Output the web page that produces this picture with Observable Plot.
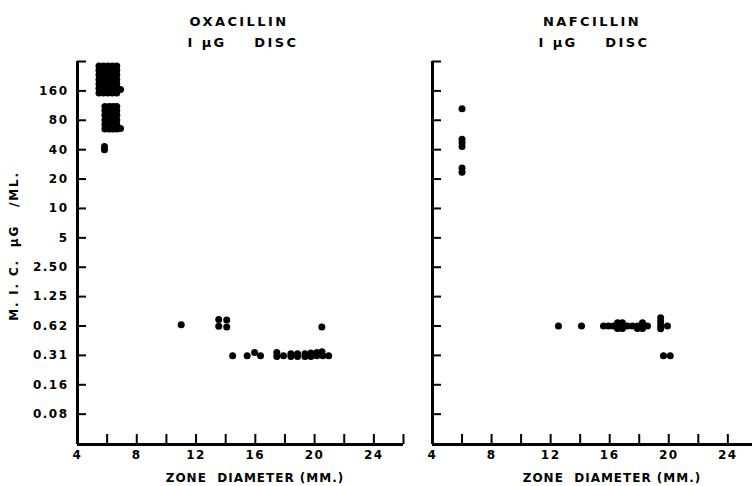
<!DOCTYPE html>
<html><head><meta charset="utf-8">
<script src="https://cdn.jsdelivr.net/npm/d3@7"></script>
<script src="https://cdn.jsdelivr.net/npm/@observablehq/plot@0.6"></script>
<style>
body{margin:0;background:#fff;}
#wrap{position:relative;width:752px;height:486px;overflow:hidden;font-family:"DejaVu Sans";font-weight:bold;color:#000;background:#fff;}
.lbl{position:absolute;white-space:pre;text-align:center;font-weight:bold;}
.title{font-size:13px;line-height:13px;letter-spacing:2.4px;}
.xlab{font-size:12px;line-height:12px;letter-spacing:1px;}
.ylab{font-size:12px;line-height:14px;letter-spacing:1.8px;width:200px;height:14px;transform:rotate(-90deg);}
.plotbox{position:absolute;top:0;}
.plotbox svg text{letter-spacing:1.5px;}
</style></head><body><div id="wrap"></div>
<script>
// ---- data ----
const yTicks = [320,160,80,40,20,10,5,2.5,1.25,0.625,0.3125,0.15625,0.078125];
const yTickLabels = ["","160","80","40","20","10","5","2.50","1.25","0.62","0.31","0.16","0.08"];
const xLabelTicks = [4,8,12,16,20,24];
const xTicksLeft = [6,8,10,12,14,16,18,20,22,24,26];
const xTicksRight = [6,8,10,12,14,16,18,20,22,24];
const yDomain = [0.0382, 320];

// Oxacillin: zone diameter (mm) and MIC (µg/ml)
const oxaMM = [
  5.45,5.45,5.45,5.45,5.45,5.45,5.45,
  5.75,5.75,5.75,5.75,5.75,5.75,5.75,
  6.05,6.05,6.05,6.05,6.05,6.05,6.05,
  6.35,6.35,6.35,6.35,6.35,6.35,6.35,
  6.65,6.65,6.65,6.65,6.65,6.65,6.65,
  6.9,
  5.85,5.85,5.85,5.85,5.85,5.85,
  6.15,6.15,6.15,6.15,6.15,6.15,
  6.4,6.4,6.4,6.4,6.4,6.4,
  6.65,6.65,6.65,6.65,6.65,6.65,
  6.9,
  5.82,5.82,
  11.0,
  13.53,13.53,14.07,14.07,
  20.49,
  14.47,15.45,15.95,16.35,
  17.45,17.45,17.9,18.4,18.4,18.85,18.85,19.35,19.35,19.75,19.75,20.15,20.15,20.5,20.55,20.95
];
const oxaMIC = [
  288,259,233,209,188,169,152,
  288,259,233,209,188,169,152,
  288,259,233,209,188,169,152,
  288,259,233,209,188,169,152,
  288,259,233,209,188,169,152,
  165,
  111,100,90,80.5,72.5,65,
  111,100,90,80.5,72.5,65,
  111,100,90,80.5,72.5,65,
  111,100,90,80.5,72.5,65,
  66,
  43,40,
  0.645,
  0.73,0.62,0.72,0.61,
  0.61,
  0.31,0.31,0.335,0.31,
  0.335,0.305,0.31,0.325,0.305,0.325,0.305,0.325,0.305,0.33,0.305,0.335,0.31,0.34,0.31,0.31
];

// Nafcillin
const nafMM = [
  6.0, 6.0,6.0,6.0, 6.0,6.0,
  12.53, 14.09,
  15.58,15.92,16.25,16.53,16.53,16.86,16.86,17.2,17.54,17.88,17.88,18.22,18.22,18.56,
  19.45,19.45,19.45,19.45,
  19.91,
  19.64,20.1
];
const nafMIC = [
  105, 51,47,43, 26,23.5,
  0.625,0.625,
  0.625,0.625,0.625,0.675,0.59,0.675,0.59,0.625,0.625,0.625,0.59,0.675,0.59,0.625,
  0.76,0.69,0.63,0.585,
  0.625,
  0.31,0.31
];

// ---- drawing ----
const labelMap = new Map(yTicks.map((v, i) => [v, yTickLabels[i]]));
const TOP = 61, BOTTOM = 444, H = 486;

function panel({mm, mic, xDomain, xTicks, width, marginLeft, marginRight, showY}) {
  const data = mm.map((x, i) => ({x, y: mic[i]}));
  const fw = width - marginLeft - marginRight;
  const fh = BOTTOM - TOP;
  return Plot.plot({
    width, height: H,
    marginTop: TOP, marginBottom: H - BOTTOM, marginLeft, marginRight,
    style: {background: "transparent", fontFamily: "DejaVu Sans", fontSize: "12px", fontWeight: "bold", color: "#000", overflow: "visible"},
    x: {type: "linear", domain: xDomain},
    y: {type: "log", base: 2, domain: yDomain, axis: showY ? undefined : null},
    marks: [
      Plot.axisX(xLabelTicks, {tickSize: 0, tickPadding: 6, label: null, tickFormat: d => String(d)}),
      showY ? Plot.axisY(yTicks.slice(1), {tickSize: 0, tickPadding: 9, label: null, tickFormat: d => labelMap.get(d)}) : null,
      Plot.ruleX(xTicks, {x: d => d, stroke: "#000", strokeWidth: 2, insetTop: fh - 10}),
      Plot.ruleY(yTicks, {y: d => d, stroke: "#000", strokeWidth: 2, insetRight: fw - 9}),
      Plot.ruleX([xDomain[0]], {stroke: "#000", strokeWidth: 3}),
      Plot.ruleY([yDomain[0]], {stroke: "#000", strokeWidth: 3}),
      Plot.dot(data, {x: "x", y: "y", r: 3.5, fill: "#000", stroke: "none"})
    ]
  });
}

const wrap = document.getElementById("wrap");
function addBox(node, left) {
  const d = document.createElement("div");
  d.className = "plotbox";
  d.style.left = left + "px";
  d.appendChild(node);
  wrap.appendChild(d);
}
addBox(panel({mm: oxaMM, mic: oxaMIC, xDomain: [4, 26], xTicks: xTicksLeft, width: 410, marginLeft: 77, marginRight: 7, showY: true}), 0);
addBox(panel({mm: nafMM, mic: nafMIC, xDomain: [4, 25.67], xTicks: xTicksRight, width: 372, marginLeft: 52, marginRight: 0, showY: false}), 380);

function addLabel(text, cls, cx, top, w = 240) {
  const d = document.createElement("div");
  d.className = "lbl " + cls;
  d.textContent = text;
  d.style.left = (cx - w / 2) + "px";
  d.style.top = top + "px";
  d.style.width = w + "px";
  wrap.appendChild(d);
  return d;
}
addLabel("OXACILLIN", "title", 239, 15);
addLabel("I µG    DISC", "title", 243, 36);
addLabel("NAFCILLIN", "title", 592, 15);
addLabel("I µG    DISC", "title", 594, 36);
addLabel("ZONE  DIAMETER (MM.)", "xlab", 255, 472);
addLabel("ZONE  DIAMETER (MM.)", "xlab", 612, 472);
addLabel("M. I. C.  µG   /ML.", "ylab", 14, 239, 200);
</script>
</body></html>
